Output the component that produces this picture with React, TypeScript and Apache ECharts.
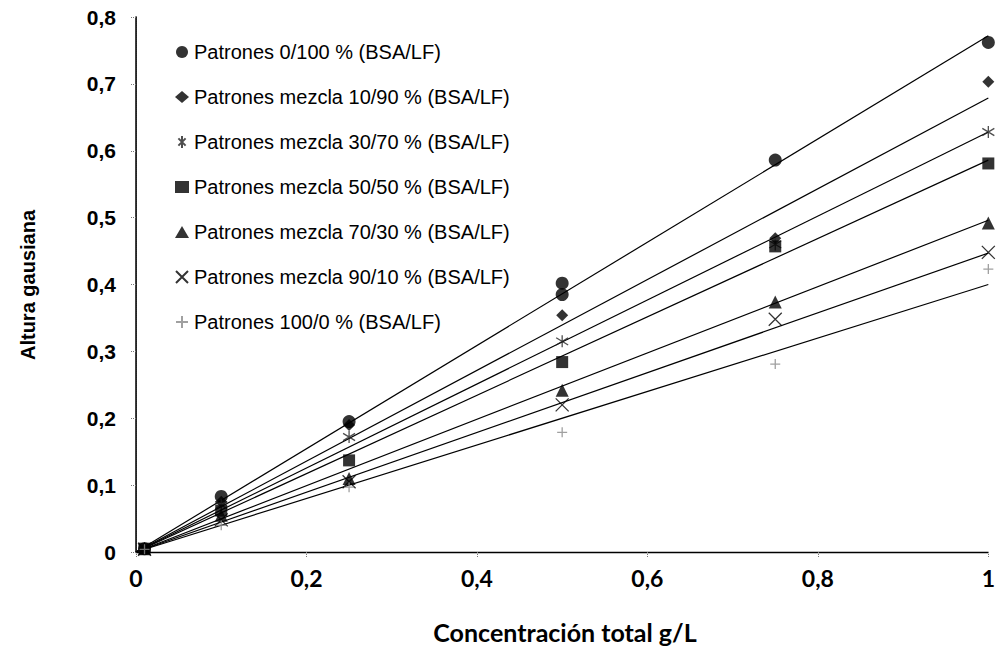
import React, { useEffect, useRef } from "react";
import * as echarts from "echarts";

const xValues = [0.01, 0.1, 0.25, 0.5, 0.75, 1.0];

const seriesNames = [
  "Patrones 0/100 % (BSA/LF)",
  "Patrones mezcla 10/90 % (BSA/LF)",
  "Patrones mezcla 30/70 % (BSA/LF)",
  "Patrones mezcla 50/50 % (BSA/LF)",
  "Patrones mezcla 70/30 % (BSA/LF)",
  "Patrones mezcla 90/10 % (BSA/LF)",
  "Patrones 100/0 % (BSA/LF)",
];

const s0_100 = [0.005, 0.083, 0.195, 0.385, 0.586, 0.762];
const s0_100extra = [[0.5, 0.402]];
const s10_90 = [0.005, 0.075, 0.19, 0.354, 0.469, 0.703];
const s30_70 = [0.006, 0.07, 0.172, 0.315, 0.46, 0.628];
const s50_50 = [0.005, 0.062, 0.137, 0.284, 0.457, 0.581];
const s70_30 = [0.005, 0.055, 0.11, 0.242, 0.374, 0.492];
const s90_10 = [0.004, 0.048, 0.105, 0.22, 0.348, 0.448];
const s100_0 = [0.004, 0.04, 0.097, 0.179, 0.281, 0.423];

const trendStart = [0.0, 0.0, 0.0, 0.0, 0.0, 0.0, 0.0];
const trendEnd = [0.772, 0.679, 0.628, 0.586, 0.496, 0.447, 0.4];

const yTicks = [0, 0.1, 0.2, 0.3, 0.4, 0.5, 0.6, 0.7, 0.8];
const xTicks = [0, 0.2, 0.4, 0.6, 0.8, 1];

const symbols = [
  "circle",
  "diamond",
  "path://M2,2L8,8M8,2L2,8M5,0L5,10",
  "rect",
  "triangle",
  "path://M0,0L10,10M10,0L0,10",
  "path://M5,0L5,10M0,5L10,5",
];
const symbolSizes = [13, 12, 12, 12, 13, 13, 10];

const fmt = (v: number) => String(v).replace(".", ",");

export default function App() {
  const ref = useRef<HTMLDivElement>(null);
  useEffect(() => {
    if (!ref.current) return;
    const chart = echarts.init(ref.current, undefined, { renderer: "svg" });
    const all = [s0_100, s10_90, s30_70, s50_50, s70_30, s90_10, s100_0];
    const scatter: any[] = all.map((vals, i) => {
      const data: any[] = vals.map((v, j) => [xValues[j], v]);
      if (i === 0) s0_100extra.forEach((p) => data.push(p));
      const isStroke = symbols[i].startsWith("path://");
      const col = i === 6 ? "#888" : i === 2 ? "#222" : "#000";
      return {
        type: "scatter",
        name: seriesNames[i],
        data,
        symbol: symbols[i],
        symbolSize: symbolSizes[i],
        z: 3,
        itemStyle: isStroke
          ? { color: "rgba(0,0,0,0)", borderColor: col, borderWidth: 1.3 }
          : { color: col },
      };
    });
    const lines: any[] = trendEnd.map((e, i) => ({
      type: "line",
      name: "trend" + i,
      data: [
        [0, trendStart[i]],
        [1, e],
      ],
      showSymbol: false,
      symbol: "none",
      lineStyle: { color: "#000", width: 1.2 },
      z: 2,
      silent: true,
    }));

    chart.setOption({
      animation: false,
      backgroundColor: "#fff",
      grid: { left: 136, right: 4, top: 17, bottom: 98 },
      legend: {
        data: seriesNames,
        orient: "vertical",
        left: 170,
        top: 37,
        itemWidth: 14,
        itemHeight: 12,
        itemGap: 25,
        textStyle: {
          fontFamily: "Liberation Sans, Arial, sans-serif",
          fontSize: 20,
          color: "#000",
        },
      },
      xAxis: [
        {
          type: "value",
          min: 0,
          max: 1,
          interval: 0.2,
          axisLine: {
            show: true,
            onZero: false,
            lineStyle: { color: "#777", type: "dotted", width: 1 },
          },
          axisTick: {
            show: true,
            length: 5,
            lineStyle: { color: "#777", type: "dotted" },
          },
          splitLine: { show: false },
          axisLabel: {
            formatter: (v: number) => (xTicks.includes(v) ? fmt(v) : ""),
            fontFamily: "Lato, sans-serif",
            fontWeight: "bold",
            fontSize: 23,
            color: "#000",
            margin: 14,
          },
        },
        {
          type: "value",
          position: "top",
          min: 0,
          max: 1,
          axisLine: { show: true, lineStyle: { color: "#000", width: 1.3 } },
          axisTick: { show: false },
          axisLabel: { show: false },
          splitLine: { show: false },
        },
      ],
      yAxis: [
        {
          type: "value",
          min: 0,
          max: 0.8,
          interval: 0.1,
          axisLine: {
            show: true,
            onZero: false,
            lineStyle: { color: "#777", type: "dotted", width: 1 },
          },
          axisTick: {
            show: true,
            length: 5,
            lineStyle: { color: "#777", type: "dotted" },
          },
          splitLine: { show: false },
          axisLabel: {
            formatter: (v: number) => {
              const t = yTicks.find((k) => Math.abs(k - v) < 1e-6);
              return t === undefined ? "" : fmt(Math.round(t * 10) / 10);
            },
            fontFamily: "Liberation Sans, Arial, sans-serif",
            fontWeight: "bold",
            fontSize: 21,
            color: "#000",
            margin: 20,
          },
        },
        {
          type: "value",
          position: "right",
          min: 0,
          max: 0.8,
          axisLine: { show: true, lineStyle: { color: "#000", width: 1.5 } },
          axisTick: { show: false },
          axisLabel: { show: false },
          splitLine: { show: false },
        },
      ],
      graphic: [
        {
          type: "text",
          x: 28,
          y: 285,
          rotation: Math.PI / 2,
          style: {
            text: "Altura gausiana",
            fontFamily: "Liberation Sans, Arial, sans-serif",
            fontWeight: "bold",
            fontSize: 20,
            fill: "#000",
            align: "center",
            verticalAlign: "middle",
          },
        },
        {
          type: "text",
          x: 565,
          y: 632,
          style: {
            text: "Concentración total g/L",
            fontFamily: "Lato, sans-serif",
            fontWeight: "bold",
            fontSize: 25,
            fill: "#000",
            align: "center",
            verticalAlign: "middle",
          },
        },
      ],
      series: [...lines, ...scatter],
    });
    return () => chart.dispose();
  }, []);
  return (
    <div
      ref={ref}
      style={{ position: "fixed", left: 0, top: 0, width: 998, height: 650 }}
    />
  );
}
